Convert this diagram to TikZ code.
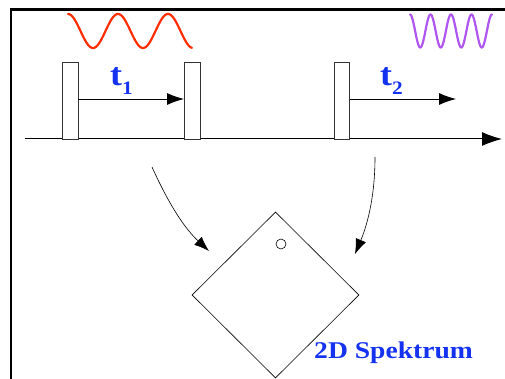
\documentclass[tikz,border=0pt]{standalone}
\usepackage{fontspec}
\setmainfont{Liberation Serif}
\usetikzlibrary{arrows.meta,shapes.geometric}
\definecolor{tblue}{RGB}{20,50,240}
\definecolor{wred}{RGB}{255,45,0}
\definecolor{wpurple}{RGB}{175,85,240}
\newcommand\tsublabel[1]{\scalebox{1.12}[1]{\bfseries\fontsize{32}{32}\selectfont t\raisebox{-9pt}{\fontsize{19}{19}\selectfont #1}}}
\begin{document}
\begin{tikzpicture}[x=1pt,y=-1pt,
  frame/.style={line width=2.4pt,black},
  pulse/.style={draw=black!80,fill=white,line width=0.6pt,rectangle,inner sep=0pt,minimum width=16pt,minimum height=77pt},
  bigarrow/.style={line width=1pt,-{Latex[length=20pt,width=14pt]}},
  tarrow/.style={line width=0.8pt,-{Latex[length=17pt,width=12pt]}},
  curvearrow/.style={line width=0.6pt,-{Latex[length=15pt,width=11pt]}},
  tlab/.style={anchor=base west,inner sep=0pt,text=tblue},
  wave/.style={line width=2.2pt,line join=round,line cap=round}
]
\useasboundingbox (0,0) rectangle (505,379);
% frame
\coordinate (fb) at (11,379);
\coordinate (ftl) at (11,9.5);
\coordinate (fr) at (505,9.5);
\draw[frame] (fb) -- (ftl) -- (fr);
% waves
\draw[wave,wred,domain=0:2.48,samples=120] plot ({68+50*\x},{31-17*cos(360*\x)});
\draw[wave,wpurple,domain=0:4,samples=160] plot ({410+20.5*\x},{31-16.5*cos(360*\x)});
% axis
\coordinate (a0) at (25,139);
\coordinate (a1) at (502,139);
\draw[bigarrow] (a0) -- (a1);
% pulses
\node[pulse] (p1) at (70,100.5) {};
\node[pulse] (p2) at (192.5,100.5) {};
\node[pulse,minimum width=15pt] (p3) at (342,100.5) {};
% time arrows
\coordinate (t1e) at (184,99);
\coordinate (t2e) at (456,99);
\draw[tarrow] (p1.east |- t1e) -- (t1e);
\draw[tarrow] (p3.east |- t2e) -- (t2e);
\node[tlab] (t1) at (110,86) {\tsublabel{1}};
\node[tlab] (t2) at (380,86) {\tsublabel{2}};
% spectrum
\node[draw,diamond,line width=0.6pt,inner sep=0pt,minimum width=167pt,minimum height=166pt] (spec) at (275.5,295) {};
\node[draw,circle,line width=0.6pt,inner sep=0pt,minimum size=10pt] (peak) at (281,244) {};
\node[anchor=base west,inner sep=0pt,text=tblue] (slab) at (314,358) {\scalebox{1.15}[1]{\bfseries\fontsize{24}{24}\selectfont 2D Spektrum}};
% curved arrows
\coordinate (c1s) at (152,167);
\coordinate (c1e) at (209,251);
\coordinate (c2s) at (375,157);
\coordinate (c2e) at (355,254);
\draw[curvearrow] (c1s) .. controls (166,198) and (182,226) .. (c1e);
\draw[curvearrow] (c2s) .. controls (375,200) and (366,228) .. (c2e);
\end{tikzpicture}
\end{document}
